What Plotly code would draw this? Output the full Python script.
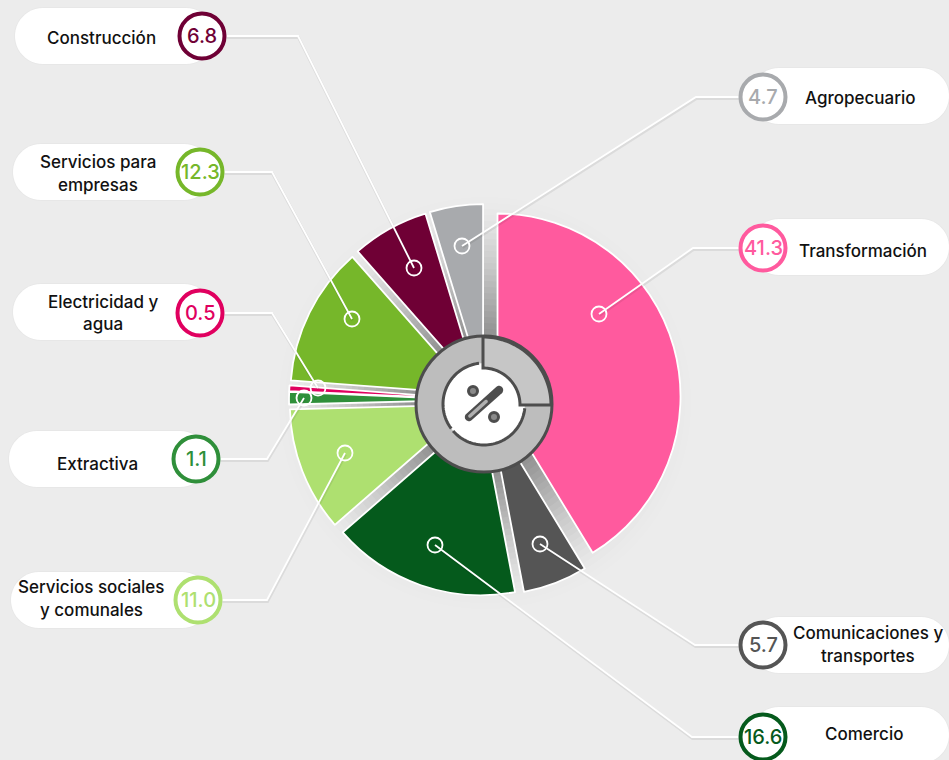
import numpy as np
import plotly.graph_objects as go

W, H = 949, 760

# ---- data ----
categories = ["Transformación", "Comunicaciones y transportes", "Comercio",
              "Servicios sociales y comunales", "Extractiva", "Electricidad y agua",
              "Servicios para empresas", "Construcción", "Agropecuario"]
values = [41.3, 5.7, 16.6, 11.0, 1.1, 0.5, 12.3, 6.8, 4.7]
value_labels = ["41.3", "5.7", "16.6", "11.0", "1.1", "0.5", "12.3", "6.8", "4.7"]
label_lines = [["Transformación"], ["Comunicaciones y", "transportes"], ["Comercio"],
               ["Servicios sociales", "y comunales"], ["Extractiva"], ["Electricidad y", "agua"],
               ["Servicios para", "empresas"], ["Construcción"], ["Agropecuario"]]

# ---- styles ----
colors = ["#FF5A9E", "#555555", "#055A1C", "#AEE070", "#2F8F3A", "#E0005F",
          "#76B72A", "#6F0035", "#A8AAAD"]
BG = "#ECECEC"
FONT = "Inter, 'Noto Sans', sans-serif"
CX, CY, R_TOTAL = 485, 400, 196
PULL = 0.071

# callout layout: side, pill top, circle centre, text centre x, text y's, leader elbow, anchor
callouts = [
    dict(side="R", top=219, c=(763, 248), tx=863, ty=[251], elbow=(693, 248), a=(599, 314)),
    dict(side="R", top=617, c=(763, 645), tx=868, ty=[633, 656], elbow=(695, 645), a=(540, 544)),
    dict(side="R", top=707, c=(763, 737), tx=864, ty=[734], elbow=(692, 737), a=(435, 545)),
    dict(side="L", left=11, top=572, c=(198, 600), tx=91, ty=[587, 610], elbow=(267, 600), a=(345, 453)),
    dict(side="L", left=9, top=431, c=(196, 459), tx=97, ty=[464], elbow=(267, 459), a=(304, 398)),
    dict(side="L", left=13, top=284, c=(200, 313), tx=103, ty=[302, 324], elbow=(272, 313), a=(318, 388)),
    dict(side="L", left=13, top=144, c=(200, 172), tx=98, ty=[162, 185], elbow=(272, 172), a=(352, 319)),
    dict(side="L", left=15, top=8, c=(202, 36), tx=101, ty=[38], elbow=(298, 36), a=(414, 268)),
    dict(side="R", top=68, c=(763, 97), tx=860, ty=[98], elbow=(696, 97), a=(462, 246)),
]


def px(x):
    return x / W


def py(y):
    return 1 - y / H


def path(points, close=False):
    s = "M" + " L".join(f"{px(x):.5f},{py(y):.5f}" for x, y in points)
    return s + (" Z" if close else "")


def arc(cx, cy, r, a0, a1, n=50):
    t = np.radians(np.linspace(a0, a1, n))
    return [(cx + r * np.sin(v), cy - r * np.cos(v)) for v in t]


def pill(x0, y0, x1, y1):
    r = (y1 - y0) / 2
    pts = arc(x0 + r, y0 + r, r, 180, 360, 24) + arc(x1 - r, y0 + r, r, 0, 180, 24)
    return path(pts, True)


def capsule(a, b, r):
    ang = np.degrees(np.arctan2(b[0] - a[0], -(b[1] - a[1])))
    return path(arc(*b, r, ang - 90, ang + 90, 12) + arc(*a, r, ang + 90, ang + 270, 12), True)


def circle(cx, cy, r, fill="rgba(0,0,0,0)", line=None, lw=0, layer="above"):
    return dict(type="circle", xref="paper", yref="paper", layer=layer,
                x0=px(cx - r), x1=px(cx + r), y0=py(cy + r), y1=py(cy - r),
                fillcolor=fill, line=dict(color=line or "rgba(0,0,0,0)", width=lw))


def pth(d, fill="rgba(0,0,0,0)", line=None, lw=0, layer="above"):
    return dict(type="path", xref="paper", yref="paper", layer=layer, path=d,
                fillcolor=fill, line=dict(color=line or "rgba(0,0,0,0)", width=lw))


shapes, annotations = [], []

# soft radial shade behind the pie, visible in the gaps between the slices
for r in np.arange(206, 60, -6):
    alpha = 0.006 + 0.05 * (206 - r) / 146
    shapes.append(circle(CX, CY + 3, r, fill=f"rgba(70,70,70,{alpha:.3f})", layer="below"))

for i, c in enumerate(callouts):
    cx, cy = c["c"]
    top = c["top"]
    if c["side"] == "L":
        x0, x1 = c["left"], cx + 12
    else:
        x0, x1 = cx - 12, W
    # pill, with a faint shadow
    shapes.append(pth(pill(x0 - 1, top - 1, x1 + 1, top + 57), fill="rgba(0,0,0,0.02)", layer="below"))
    shapes.append(pth(pill(x0, top, x1, top + 56), fill="white", layer="below"))
    # leader line
    start = (cx + 24, cy) if c["side"] == "L" else (cx - 24, cy)
    pts = [start, c["elbow"], c["a"]]
    shapes.append(pth(path([(x + 0.5, y + 1.5) for x, y in pts]), line="rgba(0,0,0,0.07)", lw=3))
    shapes.append(pth(path(pts), line="white", lw=1.8))
    shapes.append(circle(*c["a"], 7.5, line="white", lw=1.8))
    # value badge
    shapes.append(circle(cx, cy, 22.5, fill="white", line=colors[i], lw=4))
    annotations.append(dict(x=px(cx), y=py(cy), xref="paper", yref="paper", text=value_labels[i],
                            showarrow=False, xanchor="center", yanchor="middle",
                            font=dict(family=FONT, size=20, color=colors[i], weight=500)))
    for line_text, y in zip(label_lines[i], c["ty"]):
        annotations.append(dict(x=px(c["tx"]), y=py(y), xref="paper", yref="paper", text=line_text,
                                showarrow=False, xanchor="center", yanchor="middle",
                                font=dict(family=FONT, size=17, color="#111111", weight=500)))

# centre icon
IX, IY = 484, 404
DARK, MID, LIGHT = "#4D4D4D", "#BDBDBD", "#C6C6C6"
shapes.append(circle(IX, IY, 68, fill=MID, line=DARK, lw=3))
shapes.append(circle(IX, IY, 41, fill="white"))
shapes.append(pth(path(arc(IX, IY, 41, 96, 229)), line=DARK, lw=3))
shapes.append(pth(path(arc(IX, IY, 41, 233, 353)), line=DARK, lw=3))
wedge = arc(IX - 1, IY + 1, 68, 0, 90, 40) + arc(IX - 1, IY + 1, 37, 90, 0, 40)
shapes.append(pth(path(wedge, True), fill=LIGHT, line=DARK, lw=3))
# percent sign
shapes.append(pth(capsule((469, 417), (499, 390), 4.2), fill=DARK))
shapes.append(pth(capsule((470, 416), (486, 401.5), 1.8), fill="#B0B0B0"))
shapes.append(circle(473, 391, 4.5, fill="#8A8A8A", line=DARK, lw=3))
shapes.append(circle(494, 417, 4.5, fill="#8A8A8A", line=DARK, lw=3))

fig = go.Figure(go.Pie(
    labels=categories, values=values, sort=False, direction="clockwise", rotation=0,
    pull=[PULL] * len(values), textinfo="none", hoverinfo="label+value", showlegend=False,
    marker=dict(colors=colors, line=dict(color="white", width=1.8)),
    domain=dict(x=[px(CX - R_TOTAL), px(CX + R_TOTAL)], y=[py(CY + R_TOTAL), py(CY - R_TOTAL)]),
))
fig.update_layout(width=W, height=H, margin=dict(l=0, r=0, t=0, b=0),
                  paper_bgcolor=BG, plot_bgcolor=BG, shapes=shapes, annotations=annotations)
fig.write_html("out.html", config=dict(displayModeBar=False),
               post_script="document.body.style.margin='0';document.body.style.background='#ECECEC';document.documentElement.style.overflow='hidden';")
